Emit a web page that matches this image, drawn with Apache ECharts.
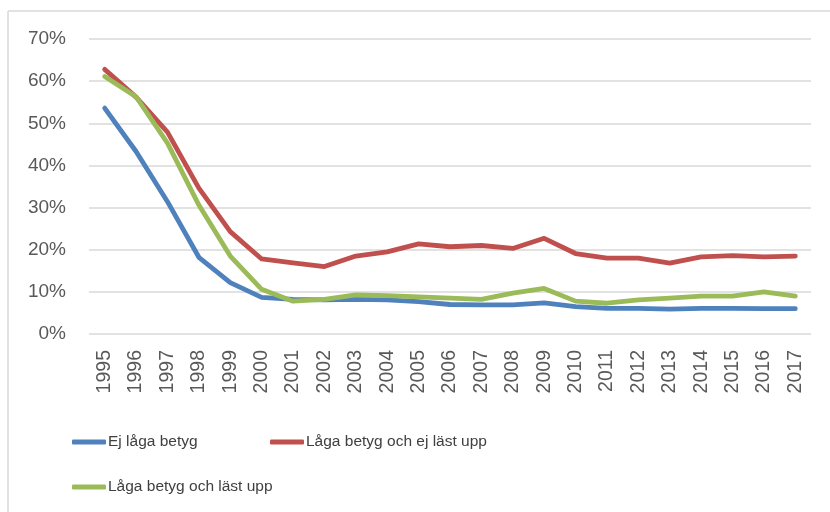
<!DOCTYPE html>
<html><head><meta charset="utf-8">
<script src="https://cdn.jsdelivr.net/npm/echarts@6/dist/echarts.min.js"></script>
<style>html,body{margin:0;padding:0;background:#fff}#c{width:830px;height:512px}</style>
</head><body><div id="c"></div>
<script>
const years = ['1995','1996','1997','1998','1999','2000','2001','2002','2003','2004','2005','2006','2007','2008','2009','2010','2011','2012','2013','2014','2015','2016','2017'];
const ejLaga = [53.6,43.3,31.4,18.2,12.2,8.7,8.2,8.1,8.2,8.1,7.7,7.0,6.9,6.9,7.4,6.5,6.1,6.1,5.9,6.1,6.1,6.0,6.0];
const lagaEjLast = [62.8,56.2,47.9,34.6,24.3,17.8,16.9,16.0,18.5,19.5,21.4,20.7,21.0,20.3,22.7,19.1,18.0,18.0,16.8,18.3,18.6,18.3,18.5];
const lagaLast = [61.1,56.3,45.3,30.6,18.5,10.6,7.8,8.2,9.3,9.1,8.8,8.5,8.2,9.7,10.8,7.8,7.3,8.1,8.5,9.0,9.0,10.0,9.0];
const seriesNames = ['Ej låga betyg','Låga betyg och ej läst upp','Låga betyg och läst upp'];
const colors = ['#4F81BD','#C0504D','#9BBB59'];
const yTicks = {min:0, max:70, interval:10};

const chart = echarts.init(document.getElementById('c'), null, {renderer:'canvas'});
const font = 'Liberation Sans, Arial, sans-serif';
const mk = (name, data, color) => ({
  name, type:'line', data, showSymbol:false, symbol:'none',
  lineStyle:{color, width:4.8, cap:'round', join:'round'}, itemStyle:{color},
  animation:false
});
const lg = (name, left, top) => ({
  data:[name], left, top, orient:'horizontal', icon:'roundRect',
  itemWidth:34, itemHeight:5, itemGap:0,
  textStyle:{color:'#404040', fontSize:15.5, fontFamily:font, padding:[0,0,0,-3]}
});
chart.setOption({
  animation:false,
  grid:{left:89, right:19, top:39, bottom:178},
  graphic:[
    {type:'line', shape:{x1:8,y1:11,x2:830,y2:11}, style:{stroke:'#d9d9d9', lineWidth:1.5}},
    {type:'line', shape:{x1:8,y1:11,x2:8,y2:512}, style:{stroke:'#d9d9d9', lineWidth:1.5}}
  ],
  xAxis:{type:'category', data:years, boundaryGap:true,
    axisLine:{show:false}, axisTick:{show:false},
    axisLabel:{rotate:90, interval:0, color:'#595959', fontSize:19.5, fontFamily:font, margin:16}},
  yAxis:{type:'value', min:yTicks.min, max:yTicks.max, interval:yTicks.interval,
    axisLine:{show:false}, axisTick:{show:false},
    splitLine:{lineStyle:{color:'#d9d9d9', width:1.5}},
    axisLabel:{formatter:'{value}%', color:'#595959', fontSize:19, fontFamily:font, margin:23}},
  legend:[lg(seriesNames[0], 67, 429), lg(seriesNames[1], 265, 429), lg(seriesNames[2], 67, 474)],
  series:[mk(seriesNames[0], ejLaga, colors[0]), mk(seriesNames[1], lagaEjLast, colors[1]), mk(seriesNames[2], lagaLast, colors[2])]
});
</script></body></html>
